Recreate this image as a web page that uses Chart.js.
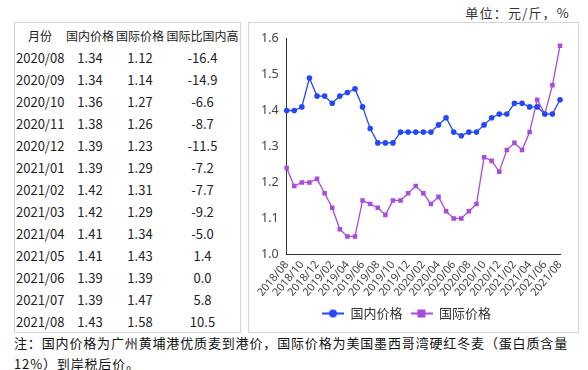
<!DOCTYPE html>
<html>
<head>
<meta charset="utf-8">
<script src="https://cdn.jsdelivr.net/npm/chart.js@4.4.1/dist/chart.umd.min.js"></script>
<style>
  body { margin: 0; background: #fff; width: 588px; height: 370px; position: relative; overflow: hidden;
         font-family: "Noto Sans CJK SC", "Noto Sans", sans-serif; color: #222; }
  #unit { position: absolute; right: 18px; top: 3px; font-size: 13px; letter-spacing: 1.2px; color: #333; }
  #table-box { position: absolute; left: 14px; top: 22px; width: 227px; height: 311px;
               border: 1px solid #d6d6d6; box-sizing: border-box; }
  table { border-collapse: collapse; table-layout: fixed; font-size: 13px; margin-top: 1px; }
  td { height: 22px; padding: 0; text-align: center; white-space: nowrap; overflow: visible; }
  td.m { text-align: left; padding-left: 1px; }
  td.h { font-size: 12px; }
  #chart-box { position: absolute; left: 248px; top: 22px; width: 331px; height: 311px;
               border: 1px solid #d6d6d6; box-sizing: border-box; }
  #note { position: absolute; left: 14px; top: 332px; width: 574px; font-size: 13px; letter-spacing: 0.85px;
          line-height: 21px; color: #111; white-space: nowrap; }
</style>
</head>
<body>
<div id="unit">单位：元/斤，%</div>
<div id="table-box"><table id="tbl"></table></div>
<div id="chart-box"><canvas id="id-price-chart"></canvas></div>
<div id="note">注：国内价格为广州黄埔港优质麦到港价，国际价格为美国墨西哥湾硬红冬麦（蛋白质含量<br>12%）到岸税后价。</div>
<script>
//#region [Data]
const _months = [
  '2018/08','2018/09','2018/10','2018/11','2018/12',
  '2019/01','2019/02','2019/03','2019/04','2019/05','2019/06','2019/07','2019/08','2019/09','2019/10','2019/11','2019/12',
  '2020/01','2020/02','2020/03','2020/04','2020/05','2020/06','2020/07','2020/08','2020/09','2020/10','2020/11','2020/12',
  '2021/01','2021/02','2021/03','2021/04','2021/05','2021/06','2021/07','2021/08'
];
const _domestic_price = [
  1.40, 1.40, 1.41, 1.49, 1.44,
  1.44, 1.42, 1.44, 1.45, 1.46, 1.41, 1.35, 1.31, 1.31, 1.31, 1.34, 1.34,
  1.34, 1.34, 1.34, 1.36, 1.38, 1.34, 1.33, 1.34, 1.34, 1.36, 1.38, 1.39,
  1.39, 1.42, 1.42, 1.41, 1.41, 1.39, 1.39, 1.43
];
const _international_price = [
  1.24, 1.19, 1.20, 1.20, 1.21,
  1.17, 1.13, 1.07, 1.05, 1.05, 1.15, 1.14, 1.13, 1.11, 1.15, 1.15, 1.17,
  1.19, 1.17, 1.14, 1.16, 1.12, 1.10, 1.10, 1.12, 1.14, 1.27, 1.26, 1.23,
  1.29, 1.31, 1.29, 1.34, 1.43, 1.39, 1.47, 1.58
];
const _y_ticks = [1.0, 1.1, 1.2, 1.3, 1.4, 1.5, 1.6];

// table on the left
const _table_header = ['月份', '国内价格', '国际价格', '国际比国内高'];
const _table_months = ['2020/08','2020/09','2020/10','2020/11','2020/12','2021/01','2021/02','2021/03','2021/04','2021/05','2021/06','2021/07','2021/08'];
const _table_domestic = ['1.34','1.34','1.36','1.38','1.39','1.39','1.42','1.42','1.41','1.41','1.39','1.39','1.43'];
const _table_international = ['1.12','1.14','1.27','1.26','1.23','1.29','1.31','1.29','1.34','1.43','1.39','1.47','1.58'];
const _table_gap = ['-16.4','-14.9','-6.6','-8.7','-11.5','-7.2','-7.7','-9.2','-5.0','1.4','0.0','5.8','10.5'];
//#endregion

const BLUE = '#2448f5';
const PURPLE = '#a94bdc';
const COL_W = [50, 50, 50, 75];

function BuildTable()
{
  const tbl = document.getElementById('tbl');
  let html = '<colgroup>' + COL_W.map(w => '<col style="width:' + w + 'px">').join('') + '</colgroup>';
  html += '<tr>' + _table_header.map(h => '<td class="h">' + h + '</td>').join('') + '</tr>';
  for (let i = 0; i < _table_months.length; i++)
  {
    html += '<tr><td class="m">' + _table_months[i] + '</td>' +
            '<td>' + _table_domestic[i] + '</td>' +
            '<td>' + _table_international[i] + '</td>' +
            '<td>' + _table_gap[i] + '</td></tr>';
  }
  tbl.style.width = COL_W.reduce((a, b) => a + b, 0) + 'px';
  tbl.innerHTML = html;
}

// little "-●-" swatch for the legend
function LegendSwatch(color, square)
{
  const c = document.createElement('canvas');
  c.width = 22; c.height = 10;
  const g = c.getContext('2d');
  g.strokeStyle = color; g.lineWidth = 2;
  g.beginPath(); g.moveTo(0, 5); g.lineTo(22, 5); g.stroke();
  g.fillStyle = color;
  if (square) g.fillRect(7, 1, 8, 8);
  else { g.beginPath(); g.arc(11, 5, 4, 0, Math.PI * 2); g.fill(); }
  return c;
}

function DrawChart()
{
  const swatches = [LegendSwatch(BLUE, false), LegendSwatch(PURPLE, true)];

  const config =
  {
    type: 'line',
    data:
    {
      labels: _months,
      datasets:
      [
        {
          label: '国内价格',
          data: _domestic_price,
          borderColor: BLUE,
          backgroundColor: BLUE,
          borderWidth: 1.3,
          pointStyle: 'circle',
          pointRadius: 2.8,
          pointBorderWidth: 0,
          tension: 0
        },
        {
          label: '国际价格',
          data: _international_price,
          borderColor: PURPLE,
          backgroundColor: PURPLE,
          borderWidth: 1.3,
          pointStyle: 'rect',
          pointRadius: 3.2,
          pointBorderWidth: 0,
          tension: 0
        }
      ]
    },
    options:
    {
      animation: false,
      responsive: true,
      maintainAspectRatio: false,
      layout: { padding: { left: 4, right: 18, top: 8, bottom: 2 } },
      plugins:
      {
        tooltip: { enabled: false },
        legend:
        {
          position: 'bottom',
          labels:
          {
            usePointStyle: true,
            pointStyleWidth: 22,
            boxHeight: 10,
            padding: 8,
            color: '#333',
            font: { family: '"Noto Sans CJK SC", sans-serif', size: 13 },
            generateLabels: (chart) =>
            {
              const items = Chart.defaults.plugins.legend.labels.generateLabels(chart);
              items.forEach((it, i) => { it.pointStyle = swatches[i]; });
              return items;
            }
          }
        }
      },
      scales:
      {
        x:
        {
          grid: { display: false, drawTicks: true, tickLength: 4, tickColor: '#333' },
          border: { display: true, color: '#333' },
          ticks:
          {
            autoSkip: false,
            maxRotation: 50,
            minRotation: 50,
            padding: 0,
            color: '#444',
            font: { family: '"Noto Sans", sans-serif', size: 11 },
            callback: function(value, index) { return index % 2 === 0 ? this.getLabelForValue(value) : ''; }
          }
        },
        y:
        {
          min: 1.0,
          max: 1.6,
          afterBuildTicks: (axis) => { axis.ticks = _y_ticks.map(v => ({ value: v })); },
          grid: { display: false, drawTicks: false },
          border: { display: true, color: '#333' },
          ticks:
          {
            padding: 8,
            color: '#444',
            font: { family: '"Noto Sans", sans-serif', size: 12.5 },
            callback: (v) => Number(v).toFixed(1)
          }
        }
      }
    }
  };

  const ctx = document.getElementById('id-price-chart').getContext('2d');
  new Chart(ctx, config);
}

BuildTable();
DrawChart();
</script>
</body>
</html>
